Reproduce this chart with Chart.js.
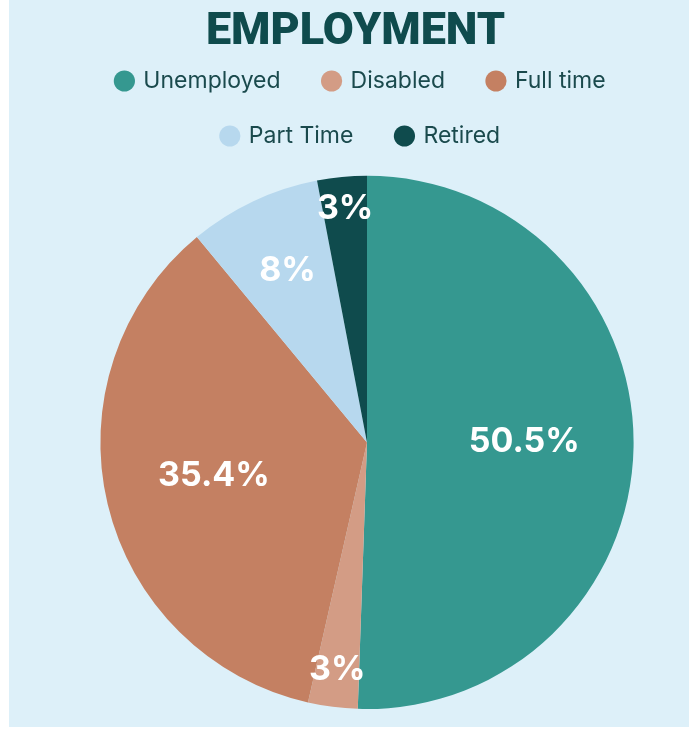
<!DOCTYPE html>
<html>
<head>
<meta charset="utf-8">
<script src="https://cdn.jsdelivr.net/npm/chart.js@4"></script>
<style>
 html, body { margin: 0; padding: 0; background: #fff; }
 #panel { position: absolute; left: 9px; top: 0; width: 680px; height: 727px; background: #ddf0f9; }
 #wrap { position: absolute; left: 36px; top: 0; width: 644px; height: 727px; }
</style>
</head>
<body>
<div id="panel"><div id="wrap"><canvas id="chart"></canvas></div></div>
<script>
// values
const categories = ["Unemployed", "Disabled", "Full time", "Part Time", "Retired"];
const shares = [50.5, 3, 35.4, 8, 3];
const shareLabels = ["50.5%", "3%", "35.4%", "8%", "3%"];
const sliceColors = ["#359890", "#d39c85", "#c48062", "#b7d8ee", "#0f4b4d"];

// white % text on each slice, pushed outwards for the thin ones
const sliceText = {
 id: "sliceText",
 afterDatasetsDraw(chart) {
  const ctx = chart.ctx;
  const meta = chart.getDatasetMeta(0);
  ctx.save();
  ctx.fillStyle = "#fff";
  ctx.font = "bold 34px Inter";
  ctx.textAlign = "center";
  ctx.textBaseline = "middle";
  meta.data.forEach((arc, i) => {
   const p = arc.getProps(["x", "y", "startAngle", "endAngle", "outerRadius"], true);
   const mid = (p.startAngle + p.endAngle) / 2;
   const v = shares[i];
   const f = v >= 30 ? 0.59 : v >= 5 ? 0.7 : 0.87;
   ctx.fillText(shareLabels[i], p.x + Math.cos(mid) * p.outerRadius * f, p.y + Math.sin(mid) * p.outerRadius * f - 3);
  });
  ctx.restore();
 },
};

// default pie legend items, with a wider gap after each text
const pieLabels = Chart.overrides.pie.plugins.legend.labels.generateLabels;

new Chart(document.getElementById("chart"), {
 type: "pie",
 data: {
  labels: categories,
  datasets: [
   {
    data: shares,
    backgroundColor: sliceColors,
    borderWidth: 0,
   },
  ],
 },
 options: {
  responsive: true,
  maintainAspectRatio: false,
  animation: false,
  layout: { padding: { bottom: 18 } },
  plugins: {
   title: {
    display: true,
    text: "EMPLOYMENT\u2002",
    color: "#0f4b4d",
    font: { family: "Roboto", size: 45, weight: 900, lineHeight: 0.2 },
    padding: { top: 28.5, bottom: 0 },
   },
   // empty subtitle used as a gap between legend and pie
   subtitle: {
    display: true,
    text: "",
    weight: 500,
    font: { size: 10, lineHeight: 1 },
    padding: { top: 8.3, bottom: 0 },
   },
   legend: {
    position: "top",
    labels: {
     usePointStyle: true,
     pointStyle: "circle",
     boxWidth: 15,
     boxHeight: 15,
     padding: 32,
     color: "#1a4a4d",
     font: { family: "Inter", size: 23 },
     generateLabels: (chart) =>
      pieLabels(chart).map((item) => ({ ...item, text: item.text + "\u2002" })),
    },
   },
   tooltip: { enabled: false },
  },
 },
 plugins: [sliceText],
});
</script>
</body>
</html>
